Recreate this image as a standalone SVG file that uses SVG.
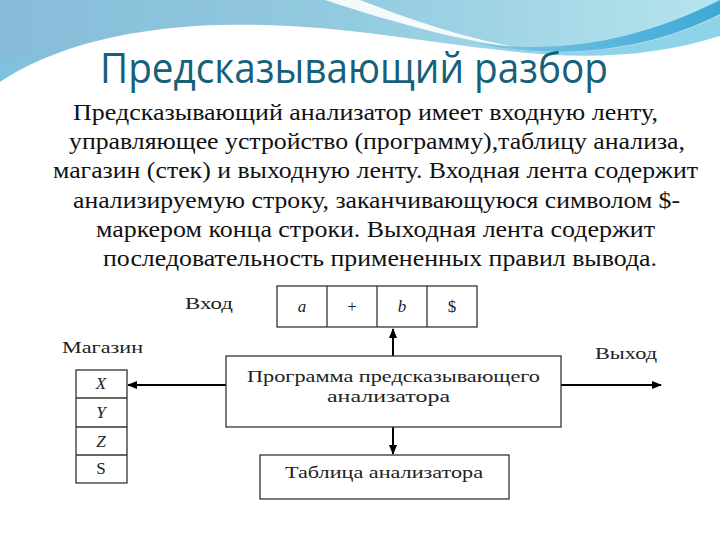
<svg xmlns="http://www.w3.org/2000/svg" width="720" height="540" viewBox="0 0 720 540">
<defs>
<linearGradient id="band" x1="0" y1="0" x2="1" y2="0">
<stop offset="0" stop-color="#86bcd9"/>
<stop offset="0.5" stop-color="#93cbe0"/>
<stop offset="1" stop-color="#b6e4ee"/>
</linearGradient>
<linearGradient id="cyan" x1="0" y1="0" x2="0" y2="1">
<stop offset="0" stop-color="#86bcd9" stop-opacity="0"/>
<stop offset="1" stop-color="#5fd6ec"/>
</linearGradient>
<linearGradient id="swoosh" x1="0" y1="0" x2="1" y2="0">
<stop offset="0" stop-color="#7cc6e4"/>
<stop offset="1" stop-color="#3ea9d6"/>
</linearGradient>
<marker id="ah" viewBox="0 0 10 10" refX="9" refY="5" markerWidth="5" markerHeight="5" orient="auto" markerUnits="strokeWidth">
<path d="M0,1 L10,5 L0,9 Z" fill="#000"/>
</marker>
<style>
.lbl{font-family:"Liberation Serif","DejaVu Serif",serif;font-size:17px;fill:#222}
.para{font-family:"Liberation Serif","DejaVu Serif",serif;font-size:24px;fill:#111}
.it{font-style:italic}
.box{fill:#fff;stroke:#333;stroke-width:1.3}
.conn{stroke:#000;stroke-width:2;fill:none;marker-end:url(#ah)}
</style>
</defs>
<rect width="720" height="540" fill="#fff"/>
<!-- header band -->
<rect x="0" y="0" width="720" height="110" fill="url(#band)"/>
<path d="M0,40 L0,100 C20,80 40,60 60,52 L60,40 Z" fill="url(#cyan)"/>
<!-- white swoosh top -->
<path d="M325,0 L360,0 C400,15 450,35 520,48 C470,42 410,28 325,0 Z" fill="#fff" opacity="0.9"/>
<!-- light band under swoosh -->
<path d="M470,44 C570,62 650,50 720,15 L720,40 C650,62 570,66 470,44 Z" fill="#8fd3e8"/>
<!-- dark blue swoosh -->
<path d="M470,42 C560,56 640,40 720,0 L720,14 C650,50 560,62 470,42 Z" fill="url(#swoosh)"/>
<!-- white body area -->
<path d="M0,82 C40,55 110,28 220,25 C330,22 420,42 500,50 C580,60 650,58 720,36 L720,540 L0,540 Z" fill="#fff"/>
<text x="100" y="83" font-family="'Open Sans','Noto Sans',sans-serif" font-size="42" fill="#17607a" textLength="508" lengthAdjust="spacingAndGlyphs">Предсказывающий разбор</text>
<g id="body-text">
<text class="para" x="73" y="120" textLength="585" lengthAdjust="spacingAndGlyphs">Предсказывающий анализатор имеет входную ленту,</text>
<text class="para" x="69" y="149" textLength="616" lengthAdjust="spacingAndGlyphs">управляющее устройство (программу),таблицу анализа,</text>
<text class="para" x="53" y="178" textLength="645" lengthAdjust="spacingAndGlyphs">магазин (стек) и выходную ленту. Входная лента содержит</text>
<text class="para" x="73" y="208" textLength="607" lengthAdjust="spacingAndGlyphs">анализируемую строку, заканчивающуюся символом $-</text>
<text class="para" x="96" y="237" textLength="559" lengthAdjust="spacingAndGlyphs">маркером конца строки. Выходная лента содержит</text>
<text class="para" x="103" y="266" textLength="554" lengthAdjust="spacingAndGlyphs">последовательность примененных правил вывода.</text>
</g>
<g id="connectors">
<line class="conn" x1="226" y1="385" x2="128" y2="385"/>
<line class="conn" x1="393" y1="356" x2="393" y2="329"/>
<line class="conn" x1="393" y1="427" x2="393" y2="454"/>
<line class="conn" x1="561" y1="385" x2="661" y2="385"/>
</g>
<g id="input">
<rect class="box" x="277" y="286" width="200" height="41"/>
<line x1="327" y1="286" x2="327" y2="327" stroke="#333" stroke-width="1.3"/>
<line x1="377" y1="286" x2="377" y2="327" stroke="#333" stroke-width="1.3"/>
<line x1="427" y1="286" x2="427" y2="327" stroke="#333" stroke-width="1.3"/>
<text class="lbl it" x="302" y="312" text-anchor="middle">a</text>
<text class="lbl" x="352" y="312" text-anchor="middle">+</text>
<text class="lbl it" x="402" y="312" text-anchor="middle">b</text>
<text class="lbl" x="452" y="312" text-anchor="middle">$</text>
</g>
<g id="label-input"><text class="lbl" x="185" y="309" textLength="48" lengthAdjust="spacingAndGlyphs">Вход</text></g>
<g id="label-stack"><text class="lbl" x="62" y="353" textLength="81" lengthAdjust="spacingAndGlyphs">Магазин</text></g>
<g id="label-output"><text class="lbl" x="595" y="359" textLength="62" lengthAdjust="spacingAndGlyphs">Выход</text></g>
<g id="stack">
<rect class="box" x="76" y="370" width="51" height="113"/>
<line x1="76" y1="398" x2="127" y2="398" stroke="#333" stroke-width="1.3"/>
<line x1="76" y1="427" x2="127" y2="427" stroke="#333" stroke-width="1.3"/>
<line x1="76" y1="455" x2="127" y2="455" stroke="#333" stroke-width="1.3"/>
<text class="lbl it" x="101" y="389" text-anchor="middle">X</text>
<text class="lbl it" x="101" y="418" text-anchor="middle">Y</text>
<text class="lbl it" x="101" y="447" text-anchor="middle">Z</text>
<text class="lbl" x="101" y="474" text-anchor="middle">S</text>
</g>
<g id="program">
<rect class="box" x="226" y="356" width="335" height="71"/>
<text class="lbl" x="247" y="382" textLength="293" lengthAdjust="spacingAndGlyphs">Программа предсказывающего</text>
<text class="lbl" x="327" y="402" textLength="123" lengthAdjust="spacingAndGlyphs">анализатора</text>
</g>
<g id="table">
<rect class="box" x="260" y="455" width="249" height="44"/>
<text class="lbl" x="285" y="478" textLength="198" lengthAdjust="spacingAndGlyphs">Таблица анализатора</text>
</g>
</svg>
